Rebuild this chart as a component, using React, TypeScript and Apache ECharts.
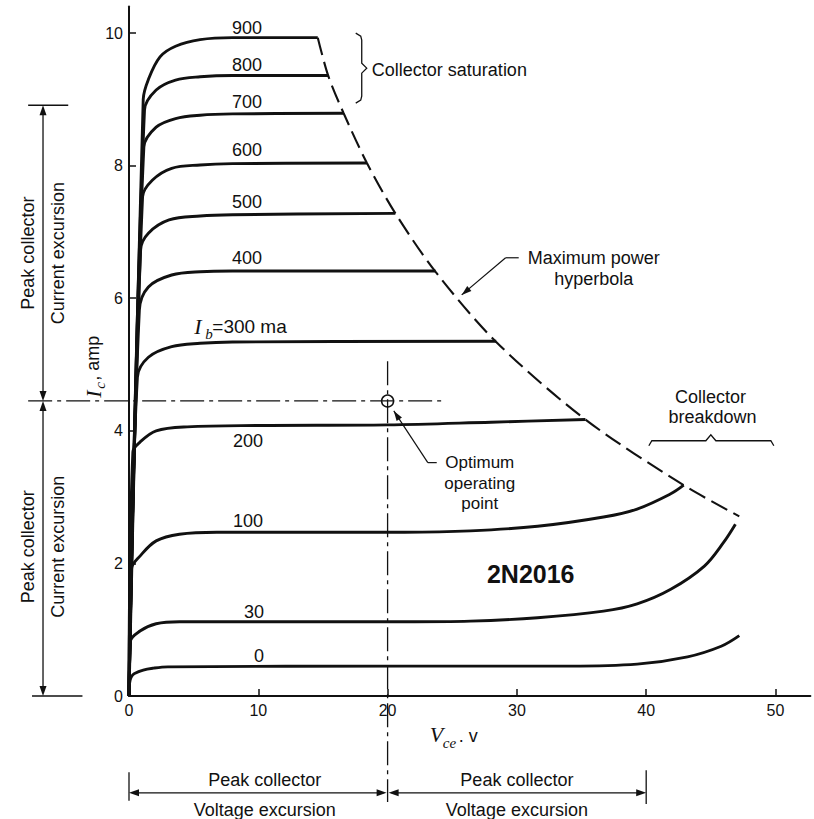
import React, { useEffect, useRef } from "react";
import * as echarts from "echarts";

// ---- data ----
const xTicks = [0, 10, 20, 30, 40, 50];
const yTicks = [0, 2, 4, 6, 8, 10];
const curveLabels = ["900", "800", "700", "600", "500", "400", "300", "200", "100", "30", "0"];

const ib900 = [[0, 0], [1.1, 9.0], [1.5, 9.3], [2.4, 9.64], [3.6, 9.8], [5.5, 9.9], [8, 9.93], [14.6, 9.93]];
const ib800 = [[0, 0], [1.2, 8.84], [2.1, 9.14], [3.6, 9.29], [5.5, 9.34], [8, 9.36], [15.4, 9.36]];
const ib700 = [[0, 0], [1.15, 8.28], [2.1, 8.58], [3.6, 8.71], [5.5, 8.76], [8, 8.78], [16.6, 8.79]];
const ib600 = [[0, 0], [1.05, 7.53], [1.8, 7.78], [3.3, 7.96], [5.5, 8.01], [8, 8.03], [18.4, 8.04]];
const ib500 = [[0, 0], [0.9, 6.73], [1.5, 6.98], [3.1, 7.18], [5.5, 7.24], [8, 7.26], [20.6, 7.28]];
const ib400 = [[0, 0], [0.8, 5.82], [1.5, 6.17], [3.3, 6.35], [5.5, 6.4], [8, 6.41], [23.7, 6.41]];
const ib300 = [[0, 0], [0.65, 4.81], [1.5, 5.11], [3.3, 5.27], [5.5, 5.32], [8, 5.34], [28.4, 5.35]];
const ib200 = [[0, 0], [0.3, 3.68], [0.85, 3.83], [2.1, 4.0], [4.5, 4.06], [10, 4.08], [20, 4.09], [28, 4.13], [35.3, 4.17]];
const ib100 = [[0, 0], [0.2, 1.92], [0.85, 2.11], [2.1, 2.34], [3.9, 2.44], [6.8, 2.47], [21.3, 2.47], [26.4, 2.49], [31.6, 2.56], [36.7, 2.7], [39.3, 2.82], [41.9, 3.05], [42.9, 3.18]];
const ib30 = [[0, 0], [0.1, 0.82], [0.85, 0.98], [2.1, 1.09], [3.9, 1.12], [21.3, 1.12], [26.4, 1.13], [31.6, 1.18], [36.7, 1.28], [39.3, 1.39], [41.9, 1.61], [44.5, 1.96], [46.0, 2.32], [46.9, 2.59]];
const ib0 = [[0, 0], [0.05, 0.2], [0.3, 0.32], [1.1, 0.39], [1.9, 0.42], [3, 0.44], [21.3, 0.45], [34.1, 0.45], [39.3, 0.48], [43.2, 0.59], [45.8, 0.75], [47.2, 0.91]];

const hyperbola = [[14.6, 9.93], [15.4, 9.36], [16.6, 8.79], [18.4, 8.04], [20.6, 7.28], [23.7, 6.4], [28.4, 5.34], [35.3, 4.17], [42.9, 3.18], [47.2, 2.71]];

const operatingPoint = [20, 4.45];
const peakCurrent = 8.91;
const peakVoltage = 40;

const INK = "#111";
const SANS = "Liberation Sans";
const SERIF = "Liberation Serif";

export default function App() {
  const ref = useRef<HTMLDivElement>(null);

  useEffect(() => {
    const chart = echarts.init(ref.current!, null, { renderer: "svg" });
    const curves = [ib900, ib800, ib700, ib600, ib500, ib400, ib300, ib200, ib100, ib30, ib0];

    chart.setOption({
      animation: false,
      backgroundColor: "#ffffff",
      grid: { left: 129, right: 3.6, top: 6.5, bottom: 123, outerBoundsMode: "none" },
      xAxis: {
        type: "value",
        min: 0,
        max: 52.7,
        interval: 10,
        axisLine: { lineStyle: { color: INK, width: 2 } },
        axisTick: { inside: true, length: 7, customValues: xTicks, lineStyle: { color: INK, width: 1.5 } },
        axisLabel: { customValues: xTicks, color: INK, fontSize: 16, fontFamily: SANS, margin: 6 },
        splitLine: { show: false },
      },
      yAxis: {
        type: "value",
        min: 0,
        max: 10.4,
        interval: 2,
        axisLine: { lineStyle: { color: INK, width: 2 } },
        axisTick: { inside: true, length: 7, customValues: yTicks, lineStyle: { color: INK, width: 1.5 } },
        axisLabel: { customValues: yTicks, color: INK, fontSize: 16, fontFamily: SANS, margin: 6 },
        splitLine: { show: false },
      },
      series: [
        ...curves.map((d, k) => ({
          type: "line",
          name: curveLabels[k],
          data: d,
          symbol: "none",
          smooth: 0.35,
          lineStyle: { color: INK, width: 2.9 },
          silent: true,
        })),
        {
          type: "line",
          name: "Maximum power hyperbola",
          data: hyperbola,
          symbol: "none",
          smooth: 0.3,
          lineStyle: { color: INK, width: 2.1, type: [18, 7] },
          silent: true,
        },
      ],
    });

    const P = (v: number, i: number) => chart.convertToPixel({ gridIndex: 0 }, [v, i]) as number[];
    const g: any[] = [];
    const line = (a: number[], b: number[], w = 1.3, dash?: number[]) =>
      g.push({ type: "line", silent: true, shape: { x1: a[0], y1: a[1], x2: b[0], y2: b[1] }, style: { stroke: INK, lineWidth: w, lineDash: dash } });
    const text = (x: number, y: number, t: string, extra: any = {}) =>
      g.push({ type: "text", silent: true, x, y, rotation: extra.rotation || 0, style: { text: t, fill: INK, fontSize: 18, fontFamily: SANS, align: "center", verticalAlign: "middle", ...extra.style } });
    const head = (tip: number[], dx: number, dy: number, len = 10, half = 3.5) => {
      const n = Math.hypot(dx, dy); dx /= n; dy /= n;
      const px = -dy, py = dx;
      g.push({
        type: "polygon", silent: true,
        shape: { points: [[tip[0], tip[1]], [tip[0] - dx * len + px * half, tip[1] - dy * len + py * half], [tip[0] - dx * len - px * half, tip[1] - dy * len - py * half]] },
        style: { fill: INK },
      });
    };
    const poly = (pts: number[][], w = 1.3) =>
      g.push({ type: "polyline", silent: true, shape: { points: pts }, style: { stroke: INK, lineWidth: w, fill: "none" } });

    // curve labels
    const labelPos = [[9.12, 10.08], [9.12, 9.52], [9.12, 8.96], [9.12, 8.24], [9.12, 7.45], [9.12, 6.61], null, [9.2, 3.85], [9.2, 2.64], [9.66, 1.27], [10.05, 0.6]];
    labelPos.forEach((p, k) => {
      if (!p) return;
      const q = P(p[0], p[1]);
      text(q[0], q[1], curveLabels[k]);
    });
    // I_b = 300 ma
    {
      const q = P(5.05, 5.58);
      text(q[0], q[1], "I", { style: { align: "left", fontFamily: SERIF, fontStyle: "italic", fontSize: 22 } });
      text(q[0] + 11, q[1] + 8, "b", { style: { align: "left", fontFamily: SERIF, fontStyle: "italic", fontSize: 15 } });
      text(q[0] + 18, q[1], "=" + curveLabels[6] + " ma", { style: { align: "left", fontSize: 19 } });
    }

    // Collector saturation
    {
      const c = P(18.0, 9.47);
      poly([[-6, -35], [-1, -32], [0, -28], [0, -5], [5, 0], [0, 5], [0, 28], [-1, 32], [-6, 35]].map((d) => [c[0] + d[0], c[1] + d[1]]));
      const t = P(18.78, 9.44);
      text(t[0], t[1], "Collector saturation", { style: { align: "left" } });
    }

    // Maximum power hyperbola
    {
      const a = P(35.94, 6.61), b = P(35.94, 6.29);
      text(a[0], a[1], "Maximum power");
      text(b[0], b[1], "hyperbola");
      const s0 = P(30.14, 6.61), s1 = P(29.13, 6.61), tip = P(25.73, 6.05);
      line(s0, s1, 1.2);
      line(s1, tip, 1.2);
      head(tip, tip[0] - s1[0], tip[1] - s1[1], 10, 3.2);
    }

    // Collector breakdown
    {
      const a = P(44.98, 4.51), b = P(45.13, 4.21);
      text(a[0], a[1], "Collector");
      text(b[0], b[1], "breakdown");
      const c = P(45.0, 3.85);
      poly([[-62, 5], [-59, 0], [-5, 0], [0, -6], [5, 0], [60, 0], [63, 5]].map((d) => [c[0] + d[0], c[1] + d[1]]));
    }

    // Optimum operating point
    {
      const op = P(operatingPoint[0], operatingPoint[1]);
      line(P(-7.8, operatingPoint[1]), P(24.4, operatingPoint[1]), 1.3, [24, 5, 4, 5]);
      line(P(operatingPoint[0], 5.05), P(operatingPoint[0], -1.6), 1.3, [24, 5, 4, 5]);
      g.push({ type: "circle", silent: true, shape: { cx: op[0], cy: op[1], r: 6 }, style: { fill: "none", stroke: INK, lineWidth: 1.5 } });
      const t1 = P(27.13, 3.52), t2 = P(27.13, 3.21), t3 = P(27.13, 2.9);
      text(t1[0], t1[1], "Optimum", { style: { fontSize: 17 } });
      text(t2[0], t2[1], "operating", { style: { fontSize: 17 } });
      text(t3[0], t3[1], "point", { style: { fontSize: 17 } });
      const s0 = P(23.8, 3.52), s1 = P(23.11, 3.52), tip = P(20.48, 4.3);
      line(s0, s1, 1.2);
      line(s1, tip, 1.2);
      head(tip, tip[0] - s1[0], tip[1] - s1[1], 10, 3.2);
    }

    // 2N2016
    {
      const q = P(31.07, 1.84);
      text(q[0], q[1], "2N2016", { style: { fontSize: 25, fontWeight: "bold" } });
    }

    // axis titles
    {
      const q = P(-2.78, 5.01);
      g.push({
        type: "group", silent: true, x: q[0], y: q[1], rotation: Math.PI / 2,
        children: [
          { type: "text", x: -34, y: 0, style: { text: "I", fill: INK, fontFamily: SERIF, fontStyle: "italic", fontSize: 22, align: "left", verticalAlign: "middle" } },
          { type: "text", x: -25, y: 7, style: { text: "c", fill: INK, fontFamily: SERIF, fontStyle: "italic", fontSize: 15, align: "left", verticalAlign: "middle" } },
          { type: "text", x: -17, y: 0, style: { text: ", amp", fill: INK, fontFamily: SANS, fontSize: 18, align: "left", verticalAlign: "middle" } },
        ],
      });
      const v = P(23.26, -0.62);
      text(v[0], v[1] - 3, "V", { style: { align: "left", fontFamily: SERIF, fontStyle: "italic", fontSize: 22 } });
      text(v[0] + 13, v[1] + 6, "ce", { style: { align: "left", fontFamily: SERIF, fontStyle: "italic", fontSize: 15 } });
      text(v[0] + 29, v[1] - 1, ". v", { style: { align: "left", fontSize: 18 } });
    }

    // left: peak collector current excursion
    {
      const ax = P(-6.65, 0)[0];
      const yTop = P(0, peakCurrent)[1], yMid = P(0, operatingPoint[1])[1], yBot = P(0, 0)[1];
      line(P(-7.8, peakCurrent), P(-4.7, peakCurrent), 1.6);
      line(P(-7.5, 0), P(-3.6, 0), 1.6);
      line([ax, yTop + 4], [ax, yMid - 4], 1.3);
      line([ax, yMid + 4], [ax, yBot - 4], 1.3);
      head([ax, yTop], 0, -1);
      head([ax, yMid], 0, 1);
      head([ax, yMid], 0, -1);
      head([ax, yBot], 0, 1);
      const x1 = P(-7.8, 0)[0], x2 = P(-5.49, 0)[0];
      const u = P(0, 6.68)[1], l = P(0, 2.25)[1];
      text(x1, u, "Peak collector", { rotation: Math.PI / 2 });
      text(x2, u, "Current excursion", { rotation: Math.PI / 2 });
      text(x1, l, "Peak collector", { rotation: Math.PI / 2 });
      text(x2, l, "Current excursion", { rotation: Math.PI / 2 });
    }

    // bottom: peak collector voltage excursion
    {
      const yb = P(0, -1.46)[1];
      const x0 = P(0, 0)[0], xm = P(operatingPoint[0], 0)[0], x4 = P(peakVoltage, 0)[0];
      line(P(0, -1.15), P(0, -1.58), 1.3);
      line(P(peakVoltage, -1.12), P(peakVoltage, -1.63), 1.3);
      line([x0 + 4, yb], [xm - 4, yb], 1.3);
      line([xm + 4, yb], [x4 - 4, yb], 1.3);
      head([x0, yb], -1, 0);
      head([xm - 1, yb], 1, 0);
      head([xm + 1, yb], -1, 0);
      head([x4, yb], 1, 0);
      const a = P(10.5, -1.27), b = P(10.5, -1.72), c = P(30.0, -1.27), d = P(30.0, -1.72);
      text(a[0], a[1], "Peak collector");
      text(b[0], b[1], "Voltage excursion");
      text(c[0], c[1], "Peak collector");
      text(d[0], d[1], "Voltage excursion");
    }

    chart.setOption({ graphic: { elements: g } });

    return () => chart.dispose();
  }, []);

  return <div ref={ref} style={{ position: "fixed", left: 0, top: 0, width: 814, height: 819, background: "#fff" }} />;
}
